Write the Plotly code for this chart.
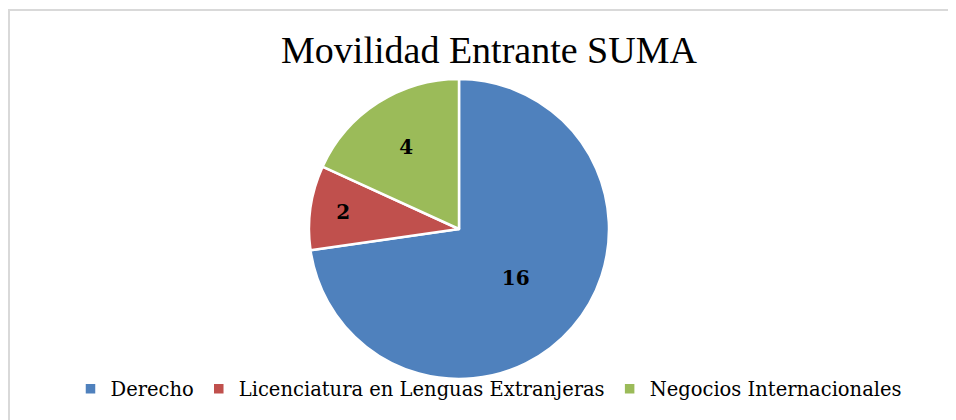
import plotly.graph_objects as go

W, H = 956, 420
OFF = 8  # page body offset of the plot

categories = ["Derecho", "Licenciatura en Lenguas Extranjeras", "Negocios Internacionales"]
values = [16, 2, 4]
colors = ["#4F81BD", "#C0504D", "#9BBB59"]
title_text = "Movilidad Entrante SUMA"

TITLE_FONT = "Liberation Serif"
FONT = "DejaVu Serif"


def px_x(x):
    return (x - OFF) / W


def px_y(y):
    return 1 - (y - OFF) / H


fig = go.Figure(
    go.Pie(
        labels=categories,
        values=values,
        sort=False,
        direction="clockwise",
        rotation=0,
        marker=dict(colors=colors, line=dict(color="white", width=2.5)),
        textinfo="value",
        textposition="inside",
        insidetextorientation="horizontal",
        textfont=dict(family=FONT, size=20, color="black", weight="bold"),
        domain=dict(x=[px_x(309), px_x(609)], y=[px_y(379), px_y(79)]),
        hoverinfo="label+value+percent",
    )
)

fig.update_layout(
    width=W,
    height=H,
    margin=dict(l=0, r=0, t=0, b=0),
    paper_bgcolor="white",
    plot_bgcolor="white",
    title=dict(
        text=title_text,
        font=dict(family=TITLE_FONT, size=38, color="black"),
        x=px_x(489),
        xanchor="center",
        xref="paper",
        yref="container",
        y=1 - 41.5 / H,
        yanchor="middle",
    ),
    showlegend=True,
    legend=dict(
        orientation="h",
        x=px_x(489),
        xanchor="center",
        y=px_y(389),
        yanchor="middle",
        font=dict(family=FONT, size=19.5, color="black"),
        itemwidth=30,
        bgcolor="rgba(0,0,0,0)",
    ),
    shapes=[
        dict(
            type="rect",
            xref="paper",
            yref="paper",
            x0=1 / W,
            x1=1.05,
            y0=-0.05,
            y1=1 - 2 / H,
            line=dict(color="#D9D9D9", width=2),
            fillcolor="rgba(0,0,0,0)",
            layer="below",
        )
    ],
)

fig.write_html("out.html")
